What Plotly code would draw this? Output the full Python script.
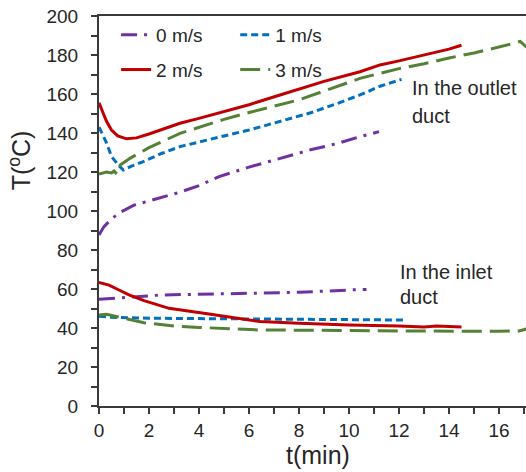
import plotly.graph_objects as go

# ---- data (t in min, T in degC) ----
t_out_0 = [0, 0.2, 0.5, 0.9, 1.4, 2.2, 3.2, 4.0, 4.8, 6.0, 7.2, 8.5, 9.5, 10.4, 11.2]
T_out_0 = [87.7, 92, 96, 99.7, 103, 106, 109.5, 113, 117.6, 122.5, 127, 131.5, 134.5, 138, 140.7]

t_out_1 = [0, 0.3, 0.5, 0.77, 0.97, 1.3, 1.77, 2.5, 3.24, 4, 5, 6, 7.24, 8.5, 9.5, 10.44, 11.24, 12.1]
T_out_1 = [143, 135, 128, 123.6, 121, 123, 125.3, 129.5, 133, 135.5, 138.5, 141.5, 146, 150.5, 155, 159.5, 164, 167.5]

t_out_2 = [0, 0.15, 0.3, 0.5, 0.75, 1.1, 1.5, 2, 3.24, 4, 5, 6, 7.24, 8, 9, 10.44, 11.24, 12, 13, 14, 14.5]
T_out_2 = [155.5, 151, 146, 141.5, 138.5, 137, 137.5, 139.5, 145, 147.5, 151, 154.5, 159.5, 162.5, 166.5, 171.4, 174.9, 177, 180, 183, 185]

t_out_3 = [0, 0.3, 0.5, 0.6, 0.72, 0.85, 1.24, 2, 3.24, 4, 5, 6, 7.24, 8, 9, 10.44, 11.24, 12, 13, 14, 15, 16, 16.6, 16.85, 17.1]
T_out_3 = [119, 120, 119.5, 120.5, 119, 123.6, 127, 132.5, 139.8, 143, 147, 150.5, 154.4, 157, 161.5, 168, 170.6, 173, 175.5, 178.5, 181, 184, 186, 187, 184]

t_in_0 = [0, 0.8, 1.5, 2.4, 4.4, 6.4, 8, 10, 10.7]
T_in_0 = [54.7, 55.2, 56, 56.9, 57.4, 57.8, 58.3, 59.5, 59.8]

t_in_1 = [0, 0.5, 2, 4, 6, 8, 10, 12.2]
T_in_1 = [46, 45.5, 45, 44.8, 44.5, 44.3, 44.2, 44.1]

t_in_2 = [0, 0.4, 0.8, 1.2, 1.8, 2.8, 4.4, 6, 6.44, 8, 10, 12, 13, 13.5, 14.5]
T_in_2 = [63.4, 62, 59.5, 57, 54, 50.1, 47.2, 44.1, 43.3, 42.4, 41.5, 41, 40.5, 41, 40.5]

t_in_3 = [0, 0.3, 1, 1.8, 3, 4, 6.4, 8, 10, 12, 14, 16, 16.8, 17.1]
T_in_3 = [46.7, 47, 45, 42.7, 41, 40.3, 39, 39, 38.7, 38.5, 38.3, 38.3, 38.5, 39.5]

series_names = ["0 m/s", "1 m/s", "2 m/s", "3 m/s"]
colors = ["#7030A0", "#0070C0", "#C00000", "#548235"]
dashes = ["16px,7px,3px,7px", "7px,4px", "solid", "20px,8px"]
legends = ["legend", "legend2", "legend", "legend2"]

outlet = [(t_out_0, T_out_0), (t_out_1, T_out_1), (t_out_2, T_out_2), (t_out_3, T_out_3)]
inlet = [(t_in_0, T_in_0), (t_in_1, T_in_1), (t_in_2, T_in_2), (t_in_3, T_in_3)]

FONT = "Liberation Sans, Arial, sans-serif"
TXT = "#262626"

fig = go.Figure()
for i in range(4):
    fig.add_trace(go.Scatter(
        x=outlet[i][0], y=outlet[i][1], mode="lines", name=series_names[i],
        line=dict(color=colors[i], width=3, dash=dashes[i]),
        legend=legends[i], legendgroup=f"g{i}", showlegend=True))
    fig.add_trace(go.Scatter(
        x=inlet[i][0], y=inlet[i][1], mode="lines", name=series_names[i],
        line=dict(color=colors[i], width=3, dash=dashes[i]),
        legend=legends[i], legendgroup=f"g{i}", showlegend=False))

axis_color = "#3a3a3a"
fig.update_layout(
    width=526, height=472,
    margin=dict(l=99, r=0, t=16, b=66),
    paper_bgcolor="white", plot_bgcolor="white",
    font=dict(family=FONT, size=19, color=TXT),
    xaxis=dict(range=[0, 17.08], dtick=2, tick0=0, showgrid=False, zeroline=False,
               showline=True, linecolor=axis_color, linewidth=2, mirror=True,
               ticks="outside", ticklen=6, tickwidth=2, tickcolor=axis_color,
               minor=dict(dtick=1, ticks="outside", ticklen=6, tickwidth=2, tickcolor=axis_color),
               tickfont=dict(size=19, color=TXT)),
    yaxis=dict(range=[0, 200], dtick=20, tick0=0, showgrid=False, zeroline=False,
               showline=True, linecolor=axis_color, linewidth=2,
               ticks="outside", ticklen=6, tickwidth=2, tickcolor=axis_color,
               minor=dict(dtick=10, ticks="outside", ticklen=6, tickwidth=2, tickcolor=axis_color),
               ticklabelstandoff=9,
               tickfont=dict(size=19, color=TXT)),
    legend=dict(x=0.040, y=1.0, xanchor="left", yanchor="top", bgcolor="rgba(0,0,0,0)",
                font=dict(size=19, color=TXT), tracegroupgap=7, orientation="v"),
    legend2=dict(x=0.319, y=1.0, xanchor="left", yanchor="top", bgcolor="rgba(0,0,0,0)",
                 font=dict(size=19, color=TXT), tracegroupgap=7, orientation="v"),
    showlegend=True,
)

fig.add_annotation(text="In the outlet", x=12.44, y=163, xref="x", yref="y",
                   xanchor="left", yanchor="middle", showarrow=False,
                   font=dict(size=20, color=TXT))
fig.add_annotation(text="duct", x=12.44, y=148.7, xref="x", yref="y",
                   xanchor="left", yanchor="middle", showarrow=False,
                   font=dict(size=20, color=TXT))
fig.add_annotation(text="In the inlet", x=11.96, y=68.7, xref="x", yref="y",
                   xanchor="left", yanchor="middle", showarrow=False,
                   font=dict(size=20, color=TXT))
fig.add_annotation(text="duct", x=11.96, y=55.9, xref="x", yref="y",
                   xanchor="left", yanchor="middle", showarrow=False,
                   font=dict(size=20, color=TXT))
# axis titles
fig.add_annotation(text="T(<sup>o</sup>C)", x=-0.185, y=0.63, xref="paper", yref="paper",
                   xanchor="center", yanchor="middle", textangle=-90, showarrow=False,
                   font=dict(size=25, color=TXT))
fig.add_annotation(text="t(min)", x=0.513, y=-0.126, xref="paper", yref="paper",
                   xanchor="center", yanchor="middle", showarrow=False,
                   font=dict(size=25, color=TXT))

fig.write_html("out.html")
